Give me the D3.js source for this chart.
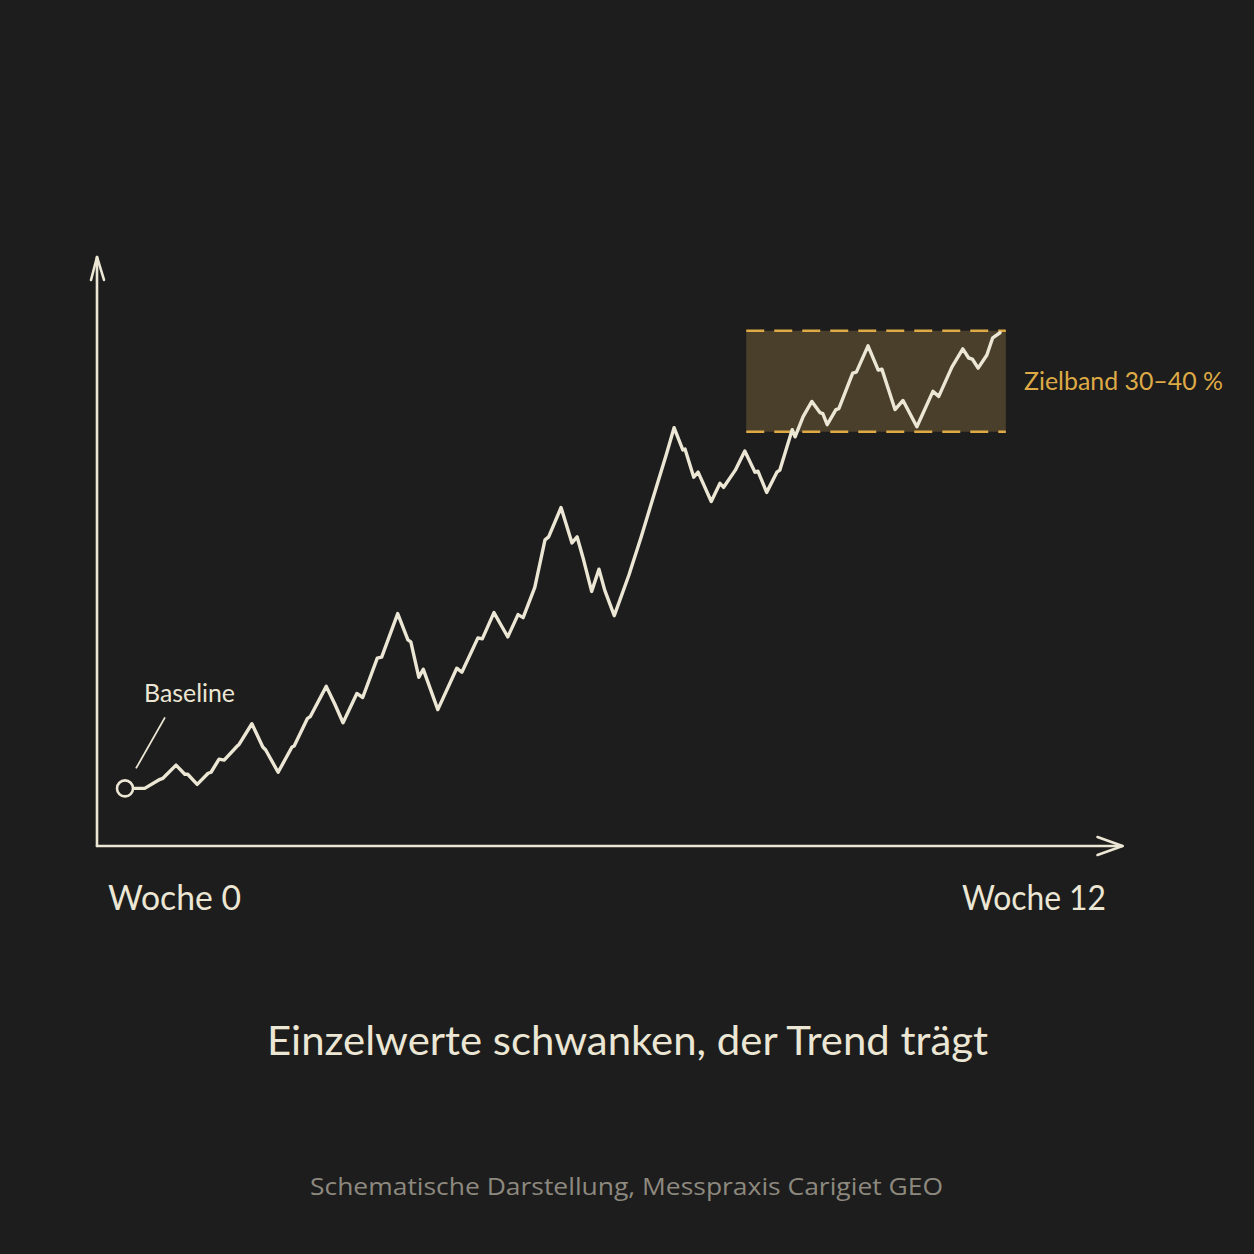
<!DOCTYPE html>
<html>
<head>
<meta charset="utf-8">
<script src="https://cdn.jsdelivr.net/npm/d3@7"></script>
<style>
  html, body { margin: 0; padding: 0; background: #1e1e1e; }
  svg { display: block; }
</style>
</head>
<body>
<script>
// ---- data ----
const weeks = [0,0.27,0.48,0.52,0.70,0.82,0.86,0.99,1.14,1.18,1.29,1.36,1.54,1.56,1.74,1.89,1.93,2.10,2.29,2.32,
  2.50,2.54,2.76,2.88,2.99,3.18,3.26,3.46,3.52,3.74,3.88,3.92,4.03,4.09,4.29,4.55,4.62,4.84,4.90,5.06,
  5.17,5.25,5.39,5.46,5.62,5.76,5.81,5.98,6.13,6.20,6.29,6.40,6.50,6.58,6.71,6.91,7.08,7.21,7.43,7.53,
  7.65,7.68,7.80,7.86,8.04,8.16,8.21,8.37,8.50,8.64,8.68,8.80,8.94,8.98,9.15,9.19,9.30,9.42,9.53,9.57,
  9.63,9.75,9.79,9.98,10.03,10.19,10.33,10.38,10.56,10.67,10.86,11.08,11.16,11.34,11.49,11.57,11.62,11.70,11.82,11.90,12.0];
const values = [-5.3,-5.3,-4.4,-4.3,-3.0,-3.9,-3.9,-4.9,-3.8,-3.7,-2.4,-2.5,-1.1,-1.0,1.1,-1.2,-1.5,-3.7,-1.2,-1.1,
  1.6,1.8,4.8,3.0,1.2,4.1,3.7,7.6,7.7,12.0,9.4,9.2,5.7,6.5,2.5,6.6,6.2,9.6,9.5,12.1,
  10.7,9.7,11.9,11.6,14.6,19.3,19.6,22.5,19.0,19.6,17.3,14.2,16.4,14.3,11.8,15.8,19.6,22.7,27.9,30.4,
  28.2,28.3,25.5,26.0,23.1,24.9,24.5,26.2,28.1,26.0,26.1,24.0,26.0,26.2,30.2,29.5,31.5,33.0,31.9,31.8,
  30.7,32.2,32.3,35.8,35.9,38.5,36.1,36.2,32.2,33.1,30.5,34.0,33.5,36.4,38.2,37.3,37.2,36.3,37.6,39.3,39.8];
const band = [30, 40];          // Zielband in %
const bandWeeks = [8.52, 12.08];
const xLabels = ["Woche 0", "Woche 12"];
const xLabelWeeks = [0, 12];
const bandLabel = "Zielband 30–40 %";
const baselineLabel = "Baseline";
const title = "Einzelwerte schwanken, der Trend trägt";
const footer = "Schematische Darstellung, Messpraxis Carigiet GEO";

// ---- drawing ----
const W = 1254, H = 1254;
const bg = "#1d1d1d";
const cream = "#ece6d4", gold = "#deaa45";
const svg = d3.select("body").append("svg").attr("width", W).attr("height", H);
svg.append("rect").attr("width", W).attr("height", H).attr("fill", bg);

const x = d3.scaleLinear().domain([0, 12]).range([125, 1000]);
const y = d3.scaleLinear().domain([-11, 47]).range([846, 260]);
const xAxisStart = x(-0.384), xAxisEnd = x(13.68);
const yTop = y(47.3);

// band
svg.append("rect")
  .attr("x", x(bandWeeks[0])).attr("y", y(band[1]))
  .attr("width", x(bandWeeks[1]) - x(bandWeeks[0]))
  .attr("height", y(band[0]) - y(band[1]))
  .attr("fill", "#4a3f2b");
band.forEach(v => {
  svg.append("line")
    .attr("x1", x(bandWeeks[0])).attr("x2", x(bandWeeks[1]))
    .attr("y1", y(v)).attr("y2", y(v))
    .attr("stroke", gold).attr("stroke-width", 2.5)
    .attr("stroke-dasharray", "18 10");
});
svg.append("text")
  .attr("x", 1024).attr("y", y(35) + 9)
  .attr("fill", gold).attr("font-family", "Lato").attr("font-size", 25)
  .attr("textLength", 199).attr("lengthAdjust", "spacingAndGlyphs")
  .text(bandLabel);

// axes
const ax = svg.append("g").attr("stroke", cream).attr("stroke-width", 2.6)
  .attr("fill", "none").attr("stroke-linecap", "round").attr("stroke-linejoin", "round");
ax.append("line").attr("x1", xAxisStart).attr("y1", y(-11)).attr("x2", xAxisStart).attr("y2", yTop);
ax.append("path").attr("d", `M${xAxisStart - 6},${yTop + 23} L${xAxisStart},${yTop} L${xAxisStart + 7},${yTop + 23}`);
ax.append("line").attr("x1", xAxisStart).attr("y1", y(-11)).attr("x2", xAxisEnd).attr("y2", y(-11));
ax.append("path").attr("d", `M${xAxisEnd - 25},${y(-11) - 9} L${xAxisEnd},${y(-11)} L${xAxisEnd - 25},${y(-11) + 9}`);

// line
const pts = weeks.map((w, i) => [w, values[i]]);
svg.append("path")
  .datum(pts)
  .attr("d", d3.line().x(d => x(d[0])).y(d => y(d[1])))
  .attr("fill", "none").attr("stroke", cream).attr("stroke-width", 3.4)
  .attr("stroke-linejoin", "round").attr("stroke-linecap", "round");

// baseline marker
svg.append("circle").attr("cx", x(weeks[0])).attr("cy", y(values[0])).attr("r", 8)
  .attr("fill", bg).attr("stroke", cream).attr("stroke-width", 2.6);
svg.append("line")
  .attr("x1", x(weeks[0]) + 11).attr("y1", y(values[0]) - 20)
  .attr("x2", x(weeks[0]) + 40).attr("y2", y(values[0]) - 71)
  .attr("stroke", cream).attr("stroke-width", 1.8);
svg.append("text").attr("x", 144).attr("y", 702)
  .attr("fill", cream).attr("font-family", "Lato").attr("font-size", 25)
  .attr("textLength", 91).attr("lengthAdjust", "spacingAndGlyphs")
  .text(baselineLabel);

// x labels
const xLabelPos = [{x: 108, len: 133}, {x: 962, len: 144}];
xLabels.forEach((t, i) => {
  svg.append("text").attr("x", xLabelPos[i].x).attr("y", 910)
    .attr("fill", cream).attr("font-family", "Lato").attr("font-size", 35)
    .attr("textLength", xLabelPos[i].len).attr("lengthAdjust", "spacingAndGlyphs")
    .text(t);
});

// title
svg.append("text").attr("x", 267).attr("y", 1055)
  .attr("fill", cream).attr("font-family", "Lato").attr("font-size", 40)
  .attr("textLength", 721).attr("lengthAdjust", "spacingAndGlyphs")
  .text(title);

// footer
svg.append("text").attr("x", 310).attr("y", 1195)
  .attr("fill", "#8d897f").attr("font-family", "Open Sans").attr("font-size", 24)
  .attr("textLength", 633).attr("lengthAdjust", "spacingAndGlyphs")
  .text(footer);
</script>
</body>
</html>
